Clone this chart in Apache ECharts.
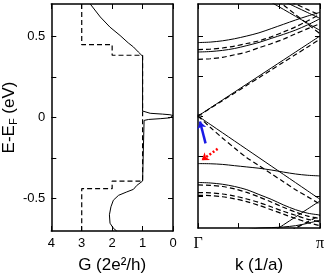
<!DOCTYPE html>
<html>
<head>
<meta charset="utf-8">
<script src="https://cdn.jsdelivr.net/npm/echarts@6/dist/echarts.min.js"></script>
<style>
  html, body { margin: 0; padding: 0; background: #fff; }
  #chart { width: 327px; height: 279px; }
</style>
</head>
<body>
<div id="chart"></div>
<script>
// energy axis (eV), shared by both panels
const eTicks = [-0.5, -0.25, 0, 0.25, 0.5];
const eLabels = [-0.5, 0, 0.5];

// left panel: conductance G (2e^2/h) vs energy
const solidE = [0.70, 0.62, 0.557, 0.506, 0.46, 0.435, 0.404, 0.378, 0.04, 0.032, 0.026, 0.021, 0.017, 0.012, 0.004,
  -0.002, -0.007, -0.012, -0.018, -0.025, -0.392, -0.419, -0.443, -0.459, -0.48, -0.51, -0.551, -0.60, -0.652, -0.683, -0.70];
const solidG = [2.72, 2.39, 2.07, 1.74, 1.47, 1.30, 1.14, 1.0, 1.0, 0.97, 0.75, 0.35, 0.1, 0.0, 0.0,
  0.1, 0.4, 0.8, 0.95, 1.0, 1.0, 1.19, 1.30, 1.52, 1.79, 1.96, 2.04, 2.09, 2.07, 1.96, 1.85];
const dashE = [0.70, 0.449, 0.449, 0.384, 0.384, -0.015, -0.02, -0.025, -0.392, -0.392, -0.439, -0.439, -0.70];
const dashG = [3.0, 3.0, 2.0, 2.0, 1.0, 1.0, 1.06, 1.0, 1.0, 2.0, 2.0, 3.0, 3.0];

// right panel: bands, k in units of pi
const kFrac = [0, 0.1, 0.2, 0.3, 0.4, 0.5, 0.6, 0.7, 0.8, 0.9, 1.0];
const kTicks = [0, 1 / 3, 2 / 3, 1];
const kLabels = [0, 1];
const kNames = ['Γ', 'π'];

const bandA = [0.459, 0.462, 0.47, 0.483, 0.50, 0.52, 0.546, 0.573, 0.60, 0.625, 0.648];
const bandB = [0.415, 0.418, 0.425, 0.437, 0.453, 0.47, 0.495, 0.525, 0.557, 0.595, 0.636];
const bandC = [0.40, 0.403, 0.41, 0.422, 0.44, 0.46, 0.485, 0.51, 0.537, 0.57, 0.608];
const bandD = [0.354, 0.358, 0.367, 0.383, 0.40, 0.427, 0.452, 0.48, 0.514, 0.546, 0.577];
const bandE = [null, null, null, null, null, 0.755, 0.711, 0.667, 0.623, 0.579, 0.535];
const bandF = [null, null, null, null, null, null, 0.754, 0.694, 0.634, 0.574, 0.514];
const bandG = [null, null, null, null, null, null, null, 0.718, 0.682, 0.646, 0.61];
const bandG2 = [null, null, null, null, null, null, null, 0.735, 0.70, 0.665, 0.63];
const upSolid = [0, 0.05, 0.10, 0.15, 0.20, 0.25, 0.30, 0.35, 0.40, 0.45, 0.50];
const upDash = [0, 0.048, 0.096, 0.144, 0.192, 0.24, 0.288, 0.336, 0.384, 0.432, 0.48];
const downSolid = [0, -0.052, -0.104, -0.156, -0.208, -0.26, -0.312, -0.364, -0.416, -0.468, -0.52];
const downDash = [0, -0.07, -0.137, -0.20, -0.26, -0.31, -0.36, -0.41, -0.46, -0.505, -0.55];
const flatBand = [-0.297, -0.298, -0.302, -0.31, -0.318, -0.326, -0.337, -0.35, -0.362, -0.37, -0.374];
const bandH = [-0.415, -0.418, -0.426, -0.44, -0.46, -0.49, -0.52, -0.555, -0.585, -0.607, -0.618];
const bandH2 = [-0.43, -0.433, -0.44, -0.455, -0.477, -0.505, -0.537, -0.57, -0.60, -0.625, -0.64];
const bandI = [-0.478, -0.48, -0.487, -0.50, -0.518, -0.54, -0.567, -0.595, -0.62, -0.645, -0.66];
const bandJ = [-0.495, -0.497, -0.504, -0.517, -0.535, -0.558, -0.585, -0.613, -0.64, -0.665, -0.685];
const bandK = [null, null, null, null, null, null, -0.73, -0.68, -0.63, -0.58, -0.53];
const bandM = [null, null, null, null, -0.71, -0.70, -0.697, -0.693, -0.685, -0.67, -0.65];
const bandN = [null, null, null, null, null, null, null, -0.74, -0.70, -0.66, -0.62];

// arrows, [k/pi, E]
const blueArrow = [[0.062, -0.171], [0.016, -0.034]];
const redArrow = [[0.161, -0.205], [0.03, -0.276]];

const solidBands = [bandA, bandC, bandE, bandG, upSolid, downSolid, flatBand, bandH, bandK, bandM];
const dashBands = [bandB, bandD, bandF, bandG2, upDash, downDash, bandH2, bandI, bandJ, bandN];

const chart = echarts.init(document.getElementById('chart'));
const font = 'Liberation Sans';

function zip(xs, ys) {
  return xs.map((x, i) => [x, ys[i]]).filter((p) => p[1] !== null);
}

function frameAxis(extra) {
  return Object.assign({
    type: 'value',
    axisLine: { show: true, onZero: false, lineStyle: { color: '#000', width: 1.5 } },
    axisTick: { show: true, inside: true, length: 5, lineStyle: { color: '#000', width: 1 } },
    axisLabel: { show: false },
    splitLine: { show: false },
  }, extra);
}

const eTick = { show: true, inside: true, length: 5, customValues: eTicks, lineStyle: { color: '#000', width: 1 } };
const kTick = { show: true, inside: true, length: 5, customValues: kTicks, lineStyle: { color: '#000', width: 1 } };

const series = [
  {
    type: 'line', xAxisIndex: 0, yAxisIndex: 0, showSymbol: false,
    data: zip(solidG, solidE),
    lineStyle: { color: '#000', width: 1 },
  },
  {
    type: 'line', xAxisIndex: 0, yAxisIndex: 0, showSymbol: false,
    data: zip(dashG, dashE),
    lineStyle: { color: '#000', width: 1.2, type: [5, 3] },
  },
];
solidBands.forEach((b) => {
  series.push({
    type: 'line', xAxisIndex: 2, yAxisIndex: 2, showSymbol: false, smooth: 0.3,
    data: zip(kFrac, b),
    lineStyle: { color: '#000', width: 1 },
  });
});
dashBands.forEach((b) => {
  series.push({
    type: 'line', xAxisIndex: 2, yAxisIndex: 2, showSymbol: false, smooth: 0.3,
    data: zip(kFrac, b),
    lineStyle: { color: '#000', width: 1.2, type: [5, 3] },
  });
});
series.push({
  type: 'scatter', xAxisIndex: 2, yAxisIndex: 2,
  data: [[0.012, 0]], symbol: 'rect', symbolSize: 3,
  itemStyle: { color: '#fff', borderColor: '#000', borderWidth: 1 },
  markLine: {
    silent: true, symbol: ['none', 'arrow'], symbolSize: 7, label: { show: false },
    data: [
      [{ coord: blueArrow[0], lineStyle: { color: '#1a1ae6', width: 2.5, type: 'solid' } }, { coord: blueArrow[1] }],
      [{ coord: redArrow[0], lineStyle: { color: '#ff0000', width: 2.5, type: [2, 2] } }, { coord: redArrow[1] }],
    ],
  },
});

const option = {
  animation: false,
  grid: [
    { left: 51, top: 4, width: 122, height: 228 },
    { left: 198, top: 4, width: 123, height: 228 },
  ],
  xAxis: [
    frameAxis({
      gridIndex: 0, position: 'bottom', min: 0, max: 4, interval: 1, inverse: true,
      axisLabel: { show: true, color: '#000', fontSize: 13, fontFamily: font, margin: 6 },
      name: 'G (2e²/h)', nameLocation: 'middle', nameGap: 26,
      nameTextStyle: { color: '#000', fontSize: 17, fontFamily: font },
    }),
    frameAxis({ gridIndex: 0, position: 'top', min: 0, max: 4, interval: 1, inverse: true }),
    frameAxis({
      gridIndex: 1, position: 'bottom', min: 0, max: 1, axisTick: kTick,
      axisLabel: {
        show: true, customValues: kLabels, color: '#000', fontSize: 16, fontFamily: 'Liberation Serif', margin: 8,
        formatter: (v) => kNames[kLabels.indexOf(v)],
      },
      name: 'k (1/a)', nameLocation: 'middle', nameGap: 26,
      nameTextStyle: { color: '#000', fontSize: 17, fontFamily: font },
    }),
    frameAxis({ gridIndex: 1, position: 'top', min: 0, max: 1, axisTick: kTick }),
  ],
  yAxis: [
    frameAxis({
      gridIndex: 0, position: 'left', min: -0.7, max: 0.7, axisTick: eTick,
      axisLabel: {
        show: true, customValues: eLabels, color: '#000', fontSize: 13, fontFamily: font, margin: 6,
        formatter: (v) => (v === 0 ? '0' : v.toFixed(1)),
      },
      name: '{n|E-E}{s|F}{n| (eV)}', nameLocation: 'middle', nameGap: 31, nameRotate: 90,
      nameTextStyle: {
        color: '#000', fontFamily: font,
        rich: {
          n: { fontSize: 17, fontFamily: font, color: '#000' },
          s: { fontSize: 11, fontFamily: font, color: '#000', padding: [8, 0, 0, 0] },
        },
      },
    }),
    frameAxis({ gridIndex: 0, position: 'right', min: -0.7, max: 0.7, axisTick: eTick }),
    frameAxis({ gridIndex: 1, position: 'left', min: -0.7, max: 0.7, axisTick: eTick }),
    frameAxis({ gridIndex: 1, position: 'right', min: -0.7, max: 0.7, axisTick: eTick }),
  ],
  series: series,
};
chart.setOption(option);
</script>
</body>
</html>
